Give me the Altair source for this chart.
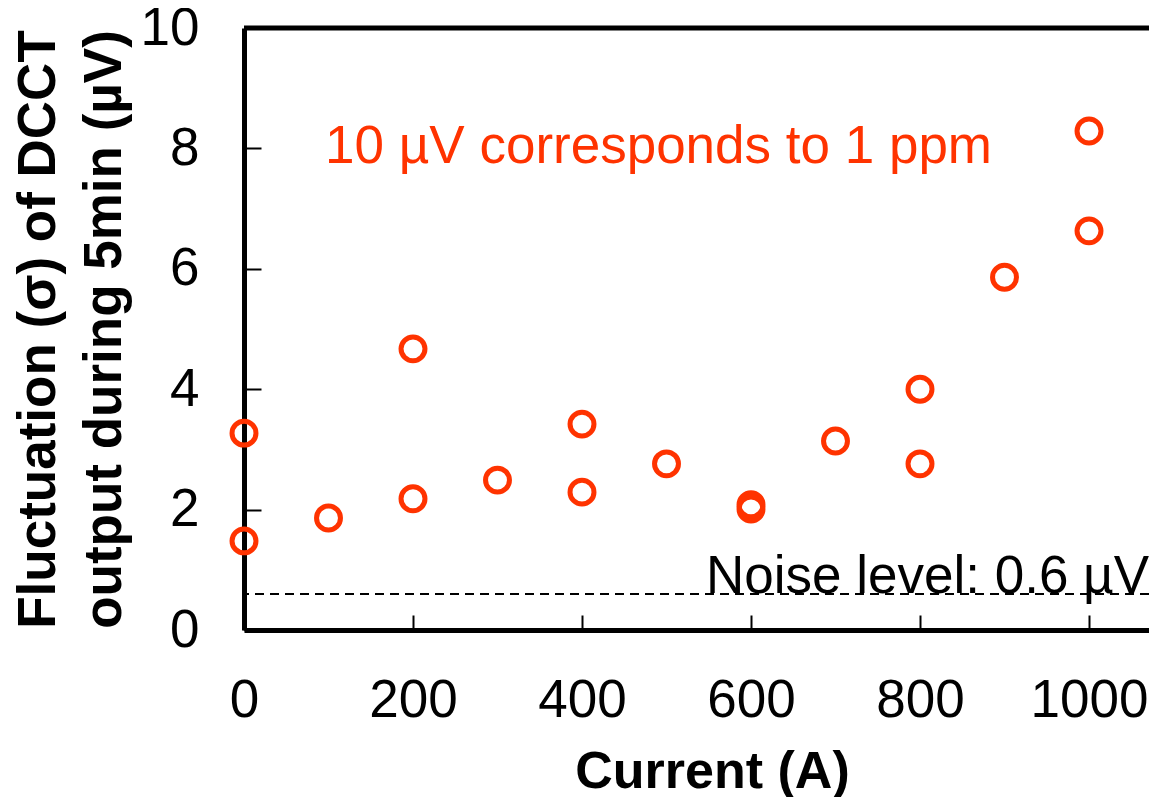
import altair as alt
import pandas as pd

# data
currents = [0, 0, 100, 200, 200, 300, 400, 400, 500, 600, 600, 700, 800, 800, 900, 1000, 1000]
fluct = [3.27, 1.48, 1.86, 4.67, 2.18, 2.49, 3.42, 2.29, 2.76, 2.08, 2.01, 3.14, 4.00, 2.76, 5.86, 8.29, 6.63]

x_ticks = [0, 200, 400, 600, 800, 1000]
y_ticks = [0, 2, 4, 6, 8, 10]
x_domain = [0, 1071]
y_domain = [0, 10]

noise_level = [0.6]
noise_text = ["Noise level: 0.6 \u00b5V"]
note_text = ["10 \u00b5V corresponds to 1 ppm"]
note_x = [96]
note_y = [7.76]

RED = "#FF3300"
FONT = "Liberation Sans"

pts = pd.DataFrame({"current": currents, "fluct": fluct})

xs = alt.Scale(domain=x_domain, nice=False, zero=False)
ys = alt.Scale(domain=y_domain, nice=False)

main_x_axis = alt.Axis(
    orient="bottom", values=x_ticks, format="d", ticks=False, grid=False,
    domainColor="black", domainWidth=5,
    labelFontSize=53, labelFont=FONT, labelColor="black", labelPadding=44,
    labelFlush=False, labelOverlap=False,
    title="Current (A)", titleFontSize=52, titleFont=FONT, titleFontWeight="bold",
    titleColor="black", titleX=468, titleY=116, titleBaseline="top", titleAlign="center",
)
main_y_axis = alt.Axis(
    orient="left", values=y_ticks, ticks=False, grid=False, domainColor="black", domainWidth=5,
    labelFontSize=53, labelFont=FONT, labelColor="black", labelPadding=45,
    labelFlush=False, labelOverlap=False,
    title=["Fluctuation (\u03c3) of DCCT", "output during 5min (\u00b5V)"],
    titleFontSize=53, titleFont=FONT, titleFontWeight="bold", titleColor="black",
    titleAngle=270, titleX=-232, titleY=301, titleBaseline="top", titleAlign="center",
    titleLineHeight=66,
)

points = alt.Chart(pts).mark_point(
    shape="circle", filled=False, strokeWidth=5, size=573, color=RED, opacity=1
).encode(
    x=alt.X("current:Q", scale=xs, axis=main_x_axis),
    y=alt.Y("fluct:Q", scale=ys, axis=main_y_axis),
)

tick_x_axis = alt.Axis(orient="bottom", values=x_ticks, labels=False, domain=False, grid=False,
                       ticks=True, tickSize=15, tickWidth=2, tickColor="black",
                       offset=-15, title=None)
tick_y_axis = alt.Axis(orient="left", values=y_ticks, labels=False, domain=False, grid=False,
                       ticks=True, tickSize=17, tickWidth=2, tickColor="black",
                       offset=-17, title=None)

noise_df = pd.DataFrame({"y": noise_level, "x": [x_domain[1]], "t": noise_text})
noise_rule = alt.Chart(noise_df).mark_rule(
    color="black", strokeWidth=2, strokeDash=[9, 6]
).encode(
    y=alt.Y("y:Q", scale=ys, axis=tick_y_axis),
)

tick_x_layer = alt.Chart(noise_df).mark_point(opacity=0).encode(
    x=alt.X("x:Q", scale=xs, axis=tick_x_axis),
)

noise_label = alt.Chart(noise_df).mark_text(
    align="right", baseline="alphabetic", fontSize=53, font=FONT, color="black", dy=-1
).encode(
    x=alt.X("x:Q", scale=xs, axis=None),
    y=alt.Y("y:Q", scale=ys, axis=None),
    text="t:N",
)

top_df = pd.DataFrame({"y": [y_domain[1]]})
top_line = alt.Chart(top_df).mark_rule(color="black", strokeWidth=5).encode(
    y=alt.Y("y:Q", scale=ys, axis=None)
)

note_df = pd.DataFrame({"x": note_x, "y": note_y, "t": note_text})
note = alt.Chart(note_df).mark_text(
    align="left", baseline="alphabetic", fontSize=53, font=FONT, color=RED
).encode(
    x=alt.X("x:Q", scale=xs, axis=None),
    y=alt.Y("y:Q", scale=ys, axis=None),
    text="t:N",
)

chart = alt.layer(
    points, noise_rule, tick_x_layer, noise_label, top_line, note
).resolve_axis(
    x="independent", y="independent"
).properties(
    width=905, height=602,
    padding={"left": 236, "top": 20, "right": 0, "bottom": 175},
    autosize=alt.AutoSizeParams(type="none"),
).configure_view(stroke=None).configure(font=FONT, background="white")

chart.save("out.html", embed_options={"renderer": "svg", "actions": False})
